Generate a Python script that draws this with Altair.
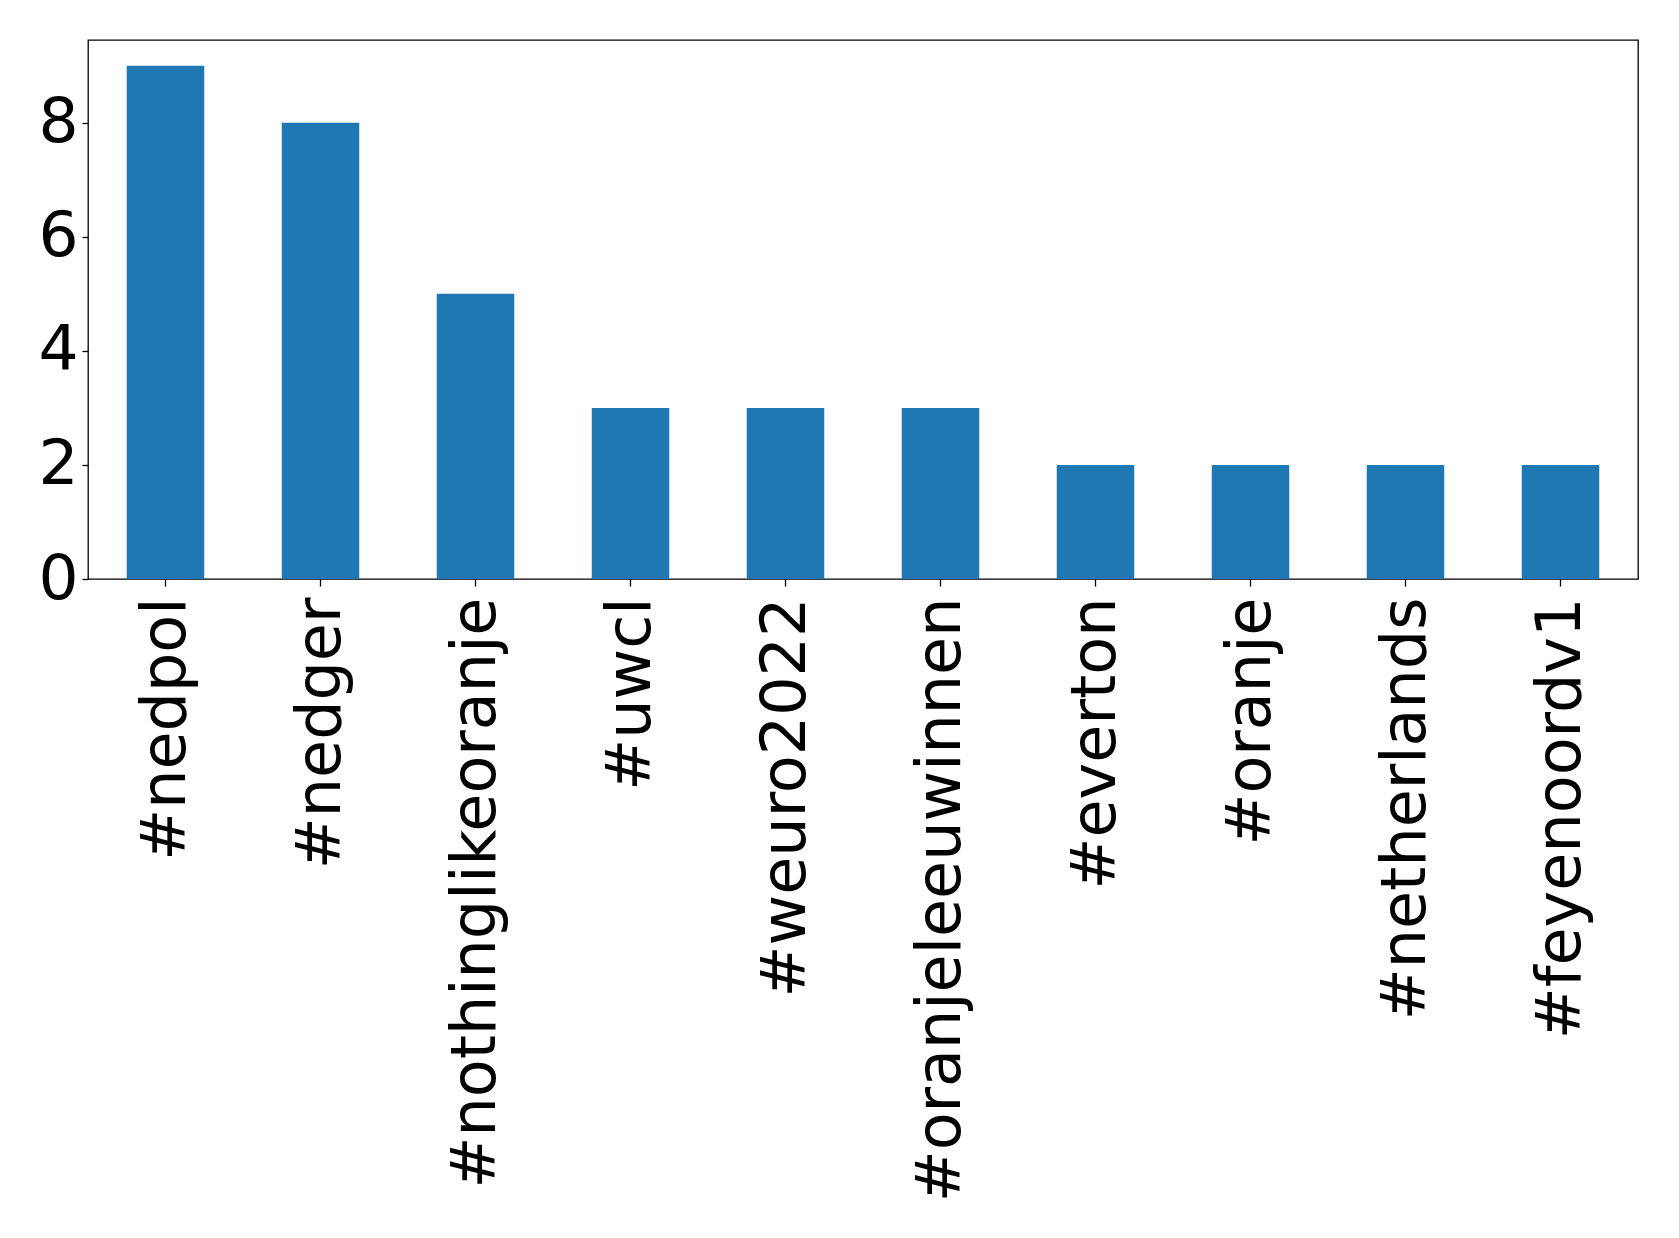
import altair as alt
import pandas as pd

tags = ["#nedpol", "#nedger", "#nothinglikeoranje", "#uwcl", "#weuro2022",
        "#oranjeleeuwinnen", "#everton", "#oranje", "#netherlands", "#feyenoordv1"]
counts = [9, 8, 5, 3, 3, 3, 2, 2, 2, 2]
y_ticks = [0, 2, 4, 6, 8]

df = pd.DataFrame({"tag": tags, "count": counts})

chart = alt.Chart(df).mark_bar(color="#1f77b4").encode(
    x=alt.X("tag:N", sort=tags, title=None,
            scale=alt.Scale(paddingInner=0.5, paddingOuter=0.25),
            axis=alt.Axis(labelAngle=270, labelAlign="right", labelBaseline="middle",
                          labelFontSize=62, labelFont="DejaVu Sans", labelColor="black",
                          tickColor="black", tickSize=7, tickWidth=1.3,
                          domain=False, labelPadding=11, labelLimit=0)),
    y=alt.Y("count:Q", title=None,
            scale=alt.Scale(domain=[0, 9.45], nice=False, zero=True),
            axis=alt.Axis(values=y_ticks, grid=False, labelFontSize=63,
                          labelFont="DejaVu Sans", labelColor="black",
                          tickColor="black", tickSize=6, tickWidth=1.3,
                          domain=False, labelPadding=4)),
).properties(
    width=1550, height=539, background="white",
    padding={"left": 29, "top": 32, "right": 5, "bottom": 5},
).configure_view(stroke="black", strokeWidth=1.3)

chart.save("out.html", embed_options={"renderer": "svg", "actions": False})
